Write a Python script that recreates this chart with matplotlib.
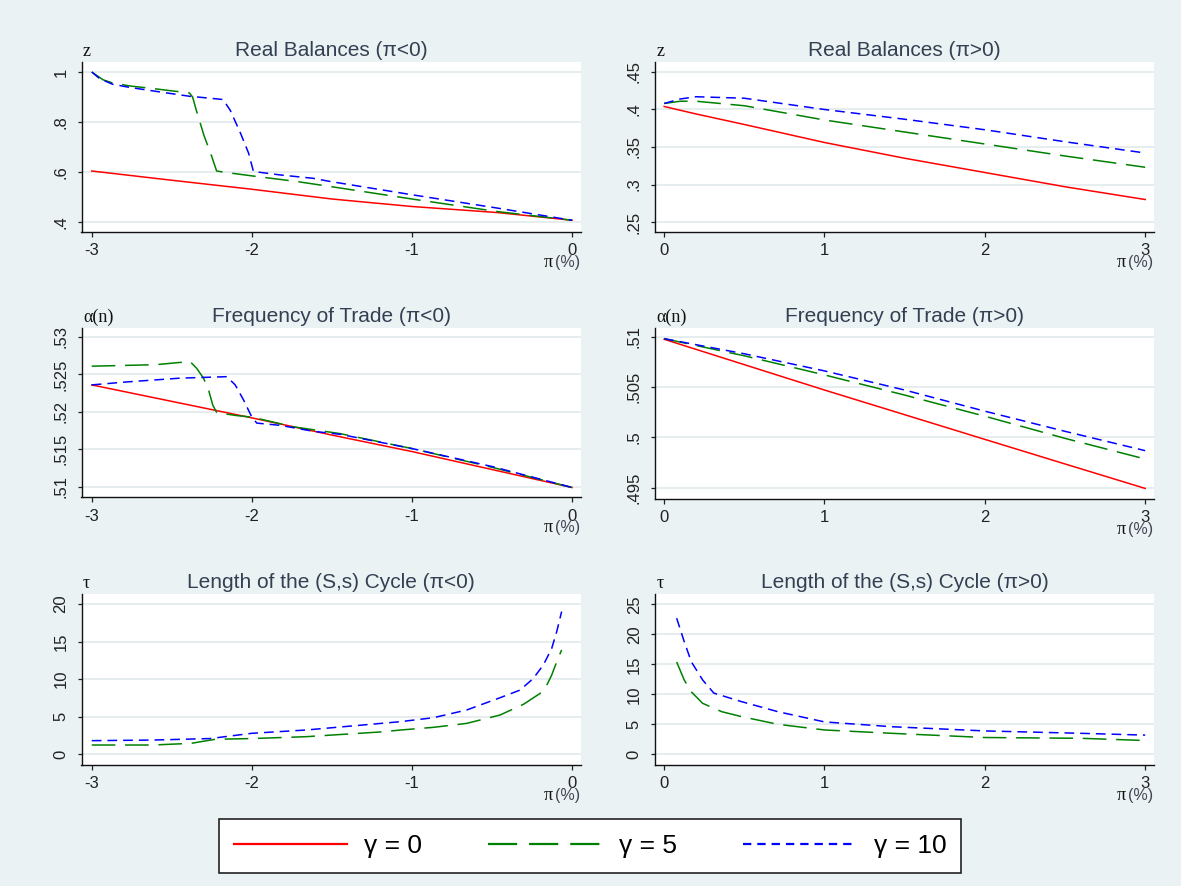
import matplotlib
matplotlib.use("Agg")
import matplotlib.pyplot as plt
from matplotlib.lines import Line2D

plt.rcParams['font.family'] = ['Liberation Sans', 'DejaVu Sans']
plt.rcParams['lines.scale_dashes'] = False

# ---------------- data ----------------
gammas = [0, 5, 10]

# Real balances, pi < 0
rb_neg_pi_g0 = [-3, -2.5, -2, -1.5, -1, -0.47, 0]
rb_neg_g0 = [0.604, 0.567, 0.531, 0.492, 0.462, 0.438, 0.407]
rb_neg_pi_g5 = [-3, -2.93, -2.87, -2.76, -2.62, -2.39, -2.37, -2.35, -2.30, -2.25,
                -2.22, -2.16, -1.97, -1.72, -1.51, -1.0, -0.47, 0]
rb_neg_g5 = [1.0, 0.969, 0.956, 0.944, 0.934, 0.916, 0.90, 0.854, 0.748, 0.661,
             0.604, 0.598, 0.582, 0.562, 0.542, 0.492, 0.442, 0.407]
rb_neg_pi_g10 = [-3, -2.95, -2.87, -2.76, -2.55, -2.39, -2.18, -2.135, -2.07, -2.02,
                 -1.99, -1.82, -1.62, -1.51, -1.0, -0.47, 0]
rb_neg_g10 = [1.0, 0.973, 0.951, 0.938, 0.918, 0.903, 0.89, 0.847, 0.754, 0.675,
              0.602, 0.588, 0.575, 0.562, 0.509, 0.456, 0.407]

# Real balances, pi > 0
rb_pos_pi = [0, 0.1, 0.2, 0.5, 1.0, 1.5, 2.0, 2.5, 3.0]
rb_pos_g0 = [0.404, 0.399, 0.394, 0.380, 0.356, 0.335, 0.316, 0.297, 0.280]
rb_pos_g5 = [0.408, 0.411, 0.411, 0.405, 0.386, 0.370, 0.354, 0.338, 0.323]
rb_pos_g10 = [0.408, 0.414, 0.417, 0.415, 0.400, 0.387, 0.373, 0.357, 0.342]

# Frequency of trade, pi < 0
ft_neg_pi_g0 = [-3, -2, -1.5, -1, -0.5, 0]
ft_neg_g0 = [0.5236, 0.5192, 0.5169, 0.5147, 0.5123, 0.5099]
ft_neg_pi_g5 = [-3, -2.8, -2.6, -2.45, -2.385, -2.344, -2.302, -2.27, -2.244, -2.219,
                -2.094, -2.0, -1.74, -1.45, -1.0, -0.5, 0]
ft_neg_g5 = [0.5261, 0.5262, 0.5263, 0.5266, 0.5267, 0.5258, 0.5245, 0.5229, 0.5209, 0.5199,
             0.5195, 0.5193, 0.5180, 0.5171, 0.5151, 0.5126, 0.5099]
ft_neg_pi_g10 = [-3, -2.78, -2.45, -2.156, -2.104, -2.052, -2.0, -1.969, -1.823, -1.615,
                 -1.448, -1.0, -0.5, 0]
ft_neg_g10 = [0.5236, 0.5240, 0.5245, 0.5247, 0.5236, 0.5216, 0.5193, 0.5185, 0.5182, 0.5174,
              0.5170, 0.5151, 0.5127, 0.5099]

# Frequency of trade, pi > 0
ft_pos_pi = [0, 0.5, 1.0, 1.5, 2.0, 2.5, 3.0]
ft_pos_g0 = [0.50974, 0.50722, 0.50470, 0.50225, 0.49980, 0.49736, 0.49493]
ft_pos_g5 = [0.50980, 0.50810, 0.50620, 0.50420, 0.50210, 0.49990, 0.49785]
ft_pos_g10 = [0.50980, 0.50830, 0.50660, 0.50470, 0.50260, 0.50060, 0.49868]

# Length of (S,s) cycle, pi < 0
tau_neg_pi_g5 = [-3, -2.62, -2.38, -2.23, -2.0, -1.66, -1.18, -1.075, -0.867, -0.658,
                 -0.45, -0.304, -0.2, -0.158, -0.127, -0.096, -0.065]
tau_neg_g5 = [1.24, 1.24, 1.46, 2.0, 2.1, 2.35, 3.0, 3.23, 3.59, 4.12,
              5.23, 6.65, 8.1, 9.2, 10.55, 12.3, 13.9]
tau_neg_pi_g10 = [-3, -2.62, -2.26, -2.0, -1.66, -1.075, -0.867, -0.658, -0.45, -0.325,
                  -0.242, -0.179, -0.127, -0.096, -0.065]
tau_neg_g10 = [1.82, 1.9, 2.1, 2.8, 3.24, 4.34, 4.87, 5.9, 7.53, 8.55,
               10.1, 11.9, 14.1, 16.3, 19.0]

# Length of (S,s) cycle, pi > 0
tau_pos_pi_g5 = [0.078, 0.125, 0.17, 0.24, 0.36, 0.48, 0.71, 1.0, 1.42, 2.0, 2.6, 3.0]
tau_pos_g5 = [15.4, 12.4, 10.4, 8.5, 7.1, 6.3, 5.0, 4.06, 3.5, 2.8, 2.67, 2.3]
tau_pos_pi_g10 = [0.078, 0.125, 0.17, 0.24, 0.31, 0.48, 0.71, 1.0, 1.42, 2.0, 2.6, 3.0]
tau_pos_g10 = [22.7, 18.8, 15.4, 12.4, 10.2, 8.8, 7.1, 5.4, 4.6, 3.9, 3.5, 3.2]

# tick labels
xt_neg = [-3, -2, -1, 0]
xt_neg_labels = ['-3', '-2', '-1', '0']
xt_pos = [0, 1, 2, 3]
xt_pos_labels = ['0', '1', '2', '3']
yt_rb_neg = [0.4, 0.6, 0.8, 1.0]
yt_rb_neg_labels = ['.4', '.6', '.8', '1']
yt_rb_pos = [0.25, 0.30, 0.35, 0.40, 0.45]
yt_rb_pos_labels = ['.25', '.3', '.35', '.4', '.45']
yt_ft_neg = [0.51, 0.515, 0.52, 0.525, 0.53]
yt_ft_neg_labels = ['.51', '.515', '.52', '.525', '.53']
yt_ft_pos = [0.495, 0.50, 0.505, 0.51]
yt_ft_pos_labels = ['.495', '.5', '.505', '.51']
yt_tau_neg = [0, 5, 10, 15, 20]
yt_tau_neg_labels = ['0', '5', '10', '15', '20']
yt_tau_pos = [0, 5, 10, 15, 20, 25]
yt_tau_pos_labels = ['0', '5', '10', '15', '20', '25']

titles = ['Real Balances (π<0)', 'Real Balances (π>0)',
          'Frequency of Trade (π<0)', 'Frequency of Trade (π>0)',
          'Length of the (S,s) Cycle (π<0)', 'Length of the (S,s) Cycle (π>0)']
ylabels = ['z', 'z', 'α(n)', 'α(n)', 'τ', 'τ']

# ---------------- style ----------------
BG = '#EAF2F3'
GRID = '#E3ECEE'
TITLE_C = '#333f52'
TICK_C = '#222222'
RED, GREEN, BLUE = '#FF0000', '#008000', '#0000FF'
W, H = 1181, 886
LW = 1.1

series_style = {
    0: dict(color=RED, lw=LW, linestyle='-'),
    5: dict(color=GREEN, lw=LW, dashes=(17, 7)),
    10: dict(color=BLUE, lw=LW, dashes=(7, 4.3)),
}

fig = plt.figure(figsize=(W / 100, H / 100), dpi=100, facecolor=BG)


def make_ax(l, t, r, b):
    return fig.add_axes([l / W, 1 - b / H, (r - l) / W, (b - t) / H])


XL_NEG = (-3.064, 0.056)
XL_POS = (-0.057, 3.055)

panels = [
    dict(box=(81.5, 62, 581, 232), xlim=XL_NEG, ylim=(0.36, 1.04),
         xt=(xt_neg, xt_neg_labels), yt=(yt_rb_neg, yt_rb_neg_labels),
         series=[(0, rb_neg_pi_g0, rb_neg_g0), (5, rb_neg_pi_g5, rb_neg_g5), (10, rb_neg_pi_g10, rb_neg_g10)]),
    dict(box=(655, 62, 1154, 232), xlim=XL_POS, ylim=(0.2367, 0.4633),
         xt=(xt_pos, xt_pos_labels), yt=(yt_rb_pos, yt_rb_pos_labels),
         series=[(0, rb_pos_pi, rb_pos_g0), (5, rb_pos_pi, rb_pos_g5), (10, rb_pos_pi, rb_pos_g10)]),
    dict(box=(81.5, 328, 581, 497.3), xlim=XL_NEG, ylim=(0.50859, 0.5312),
         xt=(xt_neg, xt_neg_labels), yt=(yt_ft_neg, yt_ft_neg_labels),
         series=[(0, ft_neg_pi_g0, ft_neg_g0), (5, ft_neg_pi_g5, ft_neg_g5), (10, ft_neg_pi_g10, ft_neg_g10)]),
    dict(box=(655, 328.3, 1154, 499), xlim=XL_POS, ylim=(0.49388, 0.51083),
         xt=(xt_pos, xt_pos_labels), yt=(yt_ft_pos, yt_ft_pos_labels),
         series=[(0, ft_pos_pi, ft_pos_g0), (5, ft_pos_pi, ft_pos_g5), (10, ft_pos_pi, ft_pos_g10)]),
    dict(box=(81.5, 594.3, 581, 765), xlim=XL_NEG, ylim=(-1.42, 21.3),
         xt=(xt_neg, xt_neg_labels), yt=(yt_tau_neg, yt_tau_neg_labels),
         series=[(5, tau_neg_pi_g5, tau_neg_g5), (10, tau_neg_pi_g10, tau_neg_g10)]),
    dict(box=(655, 594.3, 1154, 765), xlim=XL_POS, ylim=(-1.78, 26.67),
         xt=(xt_pos, xt_pos_labels), yt=(yt_tau_pos, yt_tau_pos_labels),
         series=[(5, tau_pos_pi_g5, tau_pos_g5), (10, tau_pos_pi_g10, tau_pos_g10)]),
]

for i, p in enumerate(panels):
    ax = make_ax(*p['box'])
    ax.set_facecolor('white')
    for g, xs, ys in p['series']:
        ax.plot(xs, ys, **series_style[g], solid_joinstyle='round')
    ax.set_xlim(*p['xlim'])
    ax.set_ylim(*p['ylim'])
    ax.set_xticks(p['xt'][0])
    ax.set_xticklabels(p['xt'][1])
    ax.set_yticks(p['yt'][0])
    ax.set_yticklabels(p['yt'][1], rotation=90, va='center')
    ax.yaxis.grid(True, color=GRID, lw=1.3)
    ax.set_axisbelow(True)
    for s in ('top', 'right'):
        ax.spines[s].set_visible(False)
    for s in ('left', 'bottom'):
        ax.spines[s].set_color('#111111')
        ax.spines[s].set_linewidth(1.0)
    ax.tick_params(axis='x', length=3.6, width=0.9, pad=4.5, labelsize=12, colors=TICK_C)
    ax.tick_params(axis='y', length=3.0, width=0.9, pad=6.5, labelsize=12, colors=TICK_C)
    ax.set_title(titles[i], fontsize=15, color=TITLE_C, pad=4.5)
    ax.annotate(ylabels[i], xy=(0, 1), xycoords='axes fraction', xytext=(1, 1.5),
                textcoords='offset points', ha='left', va='bottom',
                family=['Liberation Serif', 'DejaVu Serif'], fontsize=13, color='#111111')
    # x axis title: pi (%)
    ax.annotate('(%)', xy=(1, 0), xycoords='axes fraction', xytext=(-0.5, -22),
                textcoords='offset points', ha='right', va='center', fontsize=11.5, color='#444455')
    ax.annotate('π', xy=(1, 0), xycoords='axes fraction', xytext=(-20, -22),
                textcoords='offset points', ha='right', va='center',
                family=['Liberation Serif', 'DejaVu Serif'], fontsize=13, color='#111111')

handles = [Line2D([], [], color=RED, lw=1.6, linestyle='-'),
           Line2D([], [], color=GREEN, lw=1.6, dashes=(21, 8.6)),
           Line2D([], [], color=BLUE, lw=1.6, dashes=(6, 4.3))]
labels = [f'γ = {g}' for g in gammas]
leg = fig.legend(handles, labels, loc='center', bbox_to_anchor=(590 / W, 1 - 846 / H),
                 ncol=3, fontsize=19, frameon=True, fancybox=False, edgecolor='#222222',
                 facecolor='white', framealpha=1, handlelength=4.3, handletextpad=0.65,
                 columnspacing=2.5, borderpad=0.55)
leg.get_frame().set_linewidth(1.2)

fig.savefig('out.png', dpi=100, facecolor=BG)
